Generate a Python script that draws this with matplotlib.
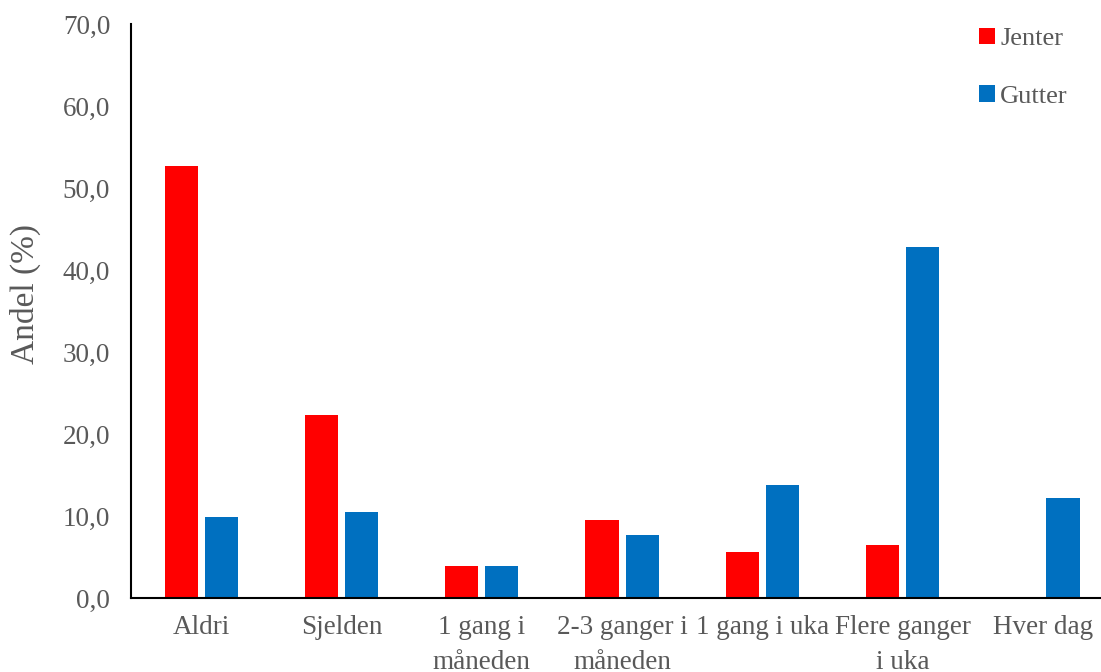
import numpy as np
import matplotlib
matplotlib.use('Agg')
import matplotlib.pyplot as plt

# Values (percent)
categories = ['Aldri', 'Sjelden', '1 gang i\nmåneden', '2-3 ganger i\nmåneden',
              '1 gang i uka', 'Flere ganger\ni uka', 'Hver dag']
jenter = [52.7, 22.3, 3.9, 9.5, 5.6, 6.5, 0.0]
gutter = [9.9, 10.5, 3.9, 7.7, 13.8, 42.8, 12.2]
yticks = [0, 10, 20, 30, 40, 50, 60, 70]

RED = '#ff0000'
BLUE = '#0070c0'
GREY = '#595959'

plt.rcParams['font.family'] = ['Liberation Serif', 'DejaVu Serif']

fig = plt.figure(figsize=(11.01, 6.72), dpi=100)
# axes runs a bit past the right edge, like the source
ax = fig.add_axes([0.119, 0.110, 0.892, 0.854])

x = np.arange(len(categories))
w = 0.236
ax.bar(x - 0.143, jenter, w, color=RED, label='Jenter')
ax.bar(x + 0.143, gutter, w, color=BLUE, label='Gutter')

ax.set_xlim(-0.5, len(categories) - 0.5)
ax.set_ylim(0, 70)
ax.set_yticks(yticks)
ax.set_yticklabels([f'{v:.1f}'.replace('.', ',') for v in yticks])
ax.set_xticks(x)
ax.set_xticklabels(categories, linespacing=1.55)
ax.tick_params(axis='both', length=0, labelsize=19.5, labelcolor=GREY)
ax.tick_params(axis='x', pad=12)
ax.tick_params(axis='y', pad=15)

for s in ['top', 'right']:
    ax.spines[s].set_visible(False)
ax.spines['left'].set_linewidth(1.5)
ax.spines['bottom'].set_linewidth(1.5)

ax.set_ylabel('Andel (%)', fontsize=24, color=GREY)
ax.yaxis.set_label_coords(-0.092, 0.53)

leg = ax.legend(loc='upper right', bbox_to_anchor=(0.970, 0.959),
                bbox_transform=fig.transFigure, frameon=False,
                fontsize=19, handlelength=0.6, handleheight=0.6,
                handletextpad=0.2, labelspacing=1.33,
                borderpad=0, borderaxespad=0)
for t in leg.get_texts():
    t.set_color(GREY)

fig.savefig('out.png', dpi=100)
